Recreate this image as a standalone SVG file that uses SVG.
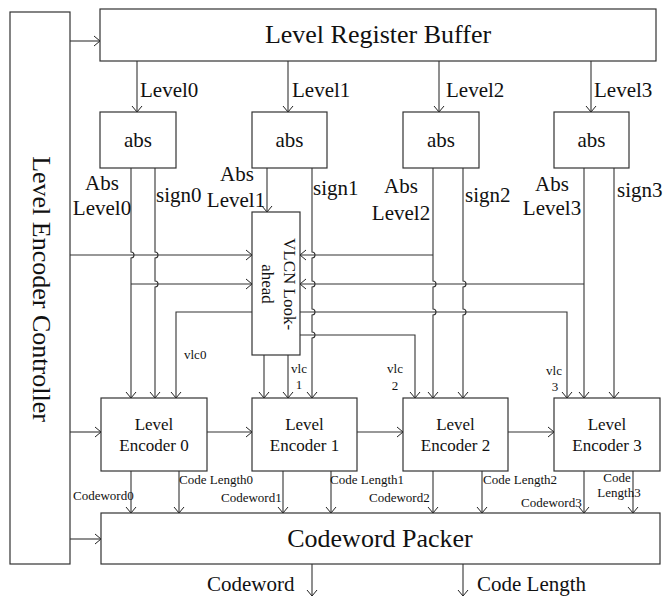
<svg xmlns="http://www.w3.org/2000/svg" width="665" height="597" viewBox="0 0 665 597">
<defs>
<marker id="ah" viewBox="-8 -6 10 12" markerWidth="10" markerHeight="12" refX="0" refY="0" orient="auto" markerUnits="userSpaceOnUse">
<path d="M-6,-5 L0,0 L-6,5" fill="none" stroke="#222" stroke-width="1"/>
</marker>
<style>
.box{fill:#fff;stroke:#333;stroke-width:1.2}
.ln{fill:none;stroke:#333;stroke-width:1.1}
.ar{fill:none;stroke:#333;stroke-width:1.1;marker-end:url(#ah)}
text{font-family:"Liberation Serif","Times New Roman",serif;fill:#111}
.big{font-size:26px}
.md{font-size:21px}
.enc{font-size:17px}
.sm{font-size:13px}
.c{text-anchor:middle}
</style>
</defs>
<rect width="665" height="597" fill="#fff"/>

<g id="connectors">
<path class="ar" d="M70,41 H100"/>
<path class="ar" d="M137,61 V112"/>
<path class="ar" d="M288,61 V112"/>
<path class="ar" d="M439,61 V112"/>
<path class="ar" d="M591,61 V112"/>
<path class="ar" d="M267,168 V212"/>
<path class="ar" d="M70,255 H252"/>
<path class="ar" d="M131,284 H252"/>
<path class="ar" d="M433,255 H300"/>
<path class="ar" d="M584,284 H300"/>
<path class="ar" d="M252,312 H176 V398"/>
<path class="ar" d="M300,335 H415 V398"/>
<path class="ar" d="M300,312 H567 V398"/>
<path class="ar" d="M131,168 V252 A3,3 0 0 1 131,258 V398"/>
<path class="ar" d="M155,168 V252 A3,3 0 0 1 155,258 V281 A3,3 0 0 1 155,287 V398"/>
<path class="ar" d="M264,355 V398"/>
<path class="ar" d="M288,355 V398"/>
<path class="ar" d="M312,168 V252 A3,3 0 0 1 312,258 V281 A3,3 0 0 1 312,287 V309 A3,3 0 0 1 312,315 V332 A3,3 0 0 1 312,338 V398"/>
<path class="ar" d="M433,168 V281 A3,3 0 0 1 433,287 V309 A3,3 0 0 1 433,315 V398"/>
<path class="ar" d="M463,168 V281 A3,3 0 0 1 463,287 V309 A3,3 0 0 1 463,315 V398"/>
<path class="ar" d="M584,168 V398"/>
<path class="ar" d="M614,168 V398"/>
<path class="ar" d="M70,432 H101"/>
<path class="ar" d="M207,432 H252"/>
<path class="ar" d="M357,432 H403"/>
<path class="ar" d="M508,432 H554"/>
<path class="ar" d="M70,539 H101"/>
<path class="ar" d="M131,471 V513"/>
<path class="ar" d="M179,471 V513"/>
<path class="ar" d="M283,471 V513"/>
<path class="ar" d="M331,471 V513"/>
<path class="ar" d="M433,471 V513"/>
<path class="ar" d="M482,471 V513"/>
<path class="ar" d="M584,471 V513"/>
<path class="ar" d="M633,471 V513"/>
<path class="ar" d="M312,564 V596"/>
<path class="ar" d="M463,564 V596"/>
</g>

<g id="controller">
<rect class="box" x="10" y="12" width="60" height="552"/>
<text class="big c" transform="translate(33,289) rotate(90)">Level Encoder Controller</text>
</g>

<g id="buffer">
<rect class="box" x="100" y="9" width="556" height="52"/>
<text class="big c" x="378" y="43">Level Register Buffer</text>
</g>

<g id="abs0"><rect class="box" x="100" y="112" width="76" height="56"/><text class="md c" x="138" y="147">abs</text></g>
<g id="abs1"><rect class="box" x="252" y="112" width="75" height="56"/><text class="md c" x="289.5" y="147">abs</text></g>
<g id="abs2"><rect class="box" x="403" y="112" width="76" height="56"/><text class="md c" x="441" y="147">abs</text></g>
<g id="abs3"><rect class="box" x="554" y="112" width="75" height="56"/><text class="md c" x="591.5" y="147">abs</text></g>

<g id="vlcn">
<rect class="box" x="252" y="212" width="48" height="143"/>
<text class="enc c" transform="translate(284,284) rotate(90)">VLCN Look-</text>
<text class="enc c" transform="translate(262,284) rotate(90)">ahead</text>
</g>

<g id="enc0"><rect class="box" x="101" y="398" width="106" height="73"/><text class="enc c" x="154" y="430">Level</text><text class="enc c" x="154" y="451">Encoder 0</text></g>
<g id="enc1"><rect class="box" x="252" y="398" width="105" height="73"/><text class="enc c" x="304.5" y="430">Level</text><text class="enc c" x="304.5" y="451">Encoder 1</text></g>
<g id="enc2"><rect class="box" x="403" y="398" width="105" height="73"/><text class="enc c" x="455.5" y="430">Level</text><text class="enc c" x="455.5" y="451">Encoder 2</text></g>
<g id="enc3"><rect class="box" x="554" y="398" width="106" height="73"/><text class="enc c" x="607" y="430">Level</text><text class="enc c" x="607" y="451">Encoder 3</text></g>

<g id="packer">
<rect class="box" x="101" y="513" width="559" height="51"/>
<text class="big c" x="380" y="547">Codeword Packer</text>
</g>

<g id="labels">
<text class="md" x="140" y="97">Level0</text>
<text class="md" x="292" y="97">Level1</text>
<text class="md" x="446" y="97">Level2</text>
<text class="md" x="594" y="97">Level3</text>

<text class="md c" x="102" y="190">Abs</text>
<text class="md c" x="102" y="215">Level0</text>
<text class="md" x="156" y="202">sign0</text>
<text class="md c" x="237" y="181">Abs</text>
<text class="md c" x="236" y="207">Level1</text>
<text class="md" x="313" y="195">sign1</text>
<text class="md c" x="401" y="193">Abs</text>
<text class="md c" x="401" y="220">Level2</text>
<text class="md" x="465" y="202">sign2</text>
<text class="md c" x="552" y="191">Abs</text>
<text class="md c" x="552" y="215">Level3</text>
<text class="md" x="617" y="197">sign3</text>

<text class="sm" x="184" y="359">vlc0</text>
<text class="sm c" x="299" y="373">vlc</text>
<text class="sm c" x="299" y="389">1</text>
<text class="sm c" x="395" y="373">vlc</text>
<text class="sm c" x="395" y="390">2</text>
<text class="sm c" x="554" y="375">vlc</text>
<text class="sm c" x="555" y="391">3</text>

<text class="sm" x="73" y="500">Codeword0</text>
<text class="sm" x="179" y="484">Code Length0</text>
<text class="sm" x="221" y="502">Codeword1</text>
<text class="sm" x="330" y="484">Code Length1</text>
<text class="sm" x="369" y="502">Codeword2</text>
<text class="sm" x="483" y="484">Code Length2</text>
<text class="sm" x="521" y="507">Codeword3</text>
<text class="sm c" x="617" y="482">Code</text>
<text class="sm c" x="619" y="497">Length3</text>

<text class="md" x="207" y="591">Codeword</text>
<text class="md" x="477" y="591">Code Length</text>
</g>
</svg>
